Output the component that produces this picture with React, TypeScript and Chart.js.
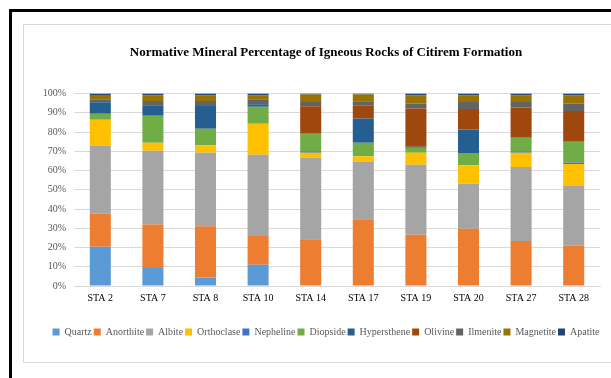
import React, { useEffect, useRef } from "react";
import { Chart, registerables } from "chart.js";

Chart.register(...registerables);

const stations = ["STA 2", "STA 7", "STA 8", "STA 10", "STA 14", "STA 17", "STA 19", "STA 20", "STA 27", "STA 28"];

// normative mineral percentages per station
const quartz = [20.4, 9.4, 4.4, 11.0, 0, 0, 0, 0, 0, 0];
const anorthite = [17.3, 22.5, 26.7, 15.0, 24.3, 34.7, 26.7, 29.8, 23.4, 21.1];
const albite = [35.3, 38.4, 38.2, 42.2, 42.4, 30.0, 36.3, 23.3, 38.4, 30.9];
const orthoclase = [13.4, 4.2, 3.8, 16.1, 2.6, 2.7, 6.3, 9.7, 7.5, 11.4];
const nepheline = [0, 0, 0, 0, 0.7, 0, 0, 0, 0.7, 0.8];
const diopside = [3.1, 14.0, 8.6, 8.9, 9.1, 7.1, 2.5, 6.3, 7.0, 10.8];
const hypersthene = [6.0, 5.4, 11.8, 1.2, 0, 12.6, 0.6, 12.2, 0, 0];
const olivine = [0, 0, 0, 0, 14.3, 6.6, 19.9, 10.7, 15.8, 15.9];
const ilmenite = [1.5, 2.3, 2.7, 2.6, 2.2, 2.3, 2.6, 3.6, 2.8, 3.9];
const magnetite = [2.3, 2.8, 2.8, 2.0, 3.9, 3.5, 4.1, 3.4, 3.4, 4.2];
const apatite = [0.7, 1.0, 1.0, 1.0, 0.5, 0.5, 1.0, 1.0, 1.0, 1.0];

const yTicks = [0, 10, 20, 30, 40, 50, 60, 70, 80, 90, 100];

const FONT = "'Liberation Serif', 'Times New Roman', serif";
const TEXT = "#595959";

export default function App() {
  const canvasRef = useRef<HTMLCanvasElement | null>(null);

  useEffect(() => {
    if (!canvasRef.current) return;
    const series: [string, number[], string][] = [
      ["Quartz", quartz, "#5B9BD5"],
      ["Anorthite", anorthite, "#ED7D31"],
      ["Albite", albite, "#A5A5A5"],
      ["Orthoclase", orthoclase, "#FFC000"],
      ["Nepheline", nepheline, "#4472C4"],
      ["Diopside", diopside, "#70AD47"],
      ["Hypersthene", hypersthene, "#255E91"],
      ["Olivine", olivine, "#9E480E"],
      ["Ilmenite", ilmenite, "#636363"],
      ["Magnetite", magnetite, "#997300"],
      ["Apatite", apatite, "#264478"],
    ];
    const chart = new Chart(canvasRef.current, {
      type: "bar",
      data: {
        labels: stations,
        datasets: series.map(([label, data, color]) => ({
          label,
          data,
          backgroundColor: color,
          borderWidth: 0,
          barPercentage: 0.4,
          categoryPercentage: 1,
        })),
      },
      options: {
        animation: false,
        responsive: false,
        layout: { padding: { left: 0, right: 0, top: 0, bottom: 15 } },
        plugins: {
          title: {
            display: true,
            text: "Normative Mineral Percentage of Igneous Rocks of Citirem Formation",
            color: "#000",
            font: { family: FONT, size: 13, weight: "bold" },
            padding: { top: 20, bottom: 33 },
          },
          legend: {
            position: "bottom",
            labels: {
              color: TEXT,
              font: { family: FONT, size: 10 },
              boxWidth: 7,
              boxHeight: 7,
              padding: 2,
            },
          },
          tooltip: { enabled: false },
        },
        scales: {
          x: {
            stacked: true,
            grid: { display: false, drawTicks: false },
            border: { display: true, color: "#D9D9D9", width: 1 },
            ticks: { color: "#000", font: { family: FONT, size: 10 }, padding: 6 },
            afterFit: (s: any) => {
              s.height = 39;
            },
          },
          y: {
            stacked: true,
            min: 0,
            max: 100,
            afterBuildTicks: (s: any) => {
              s.ticks = yTicks.map((v) => ({ value: v }));
            },
            grid: { color: "#D9D9D9", drawTicks: false },
            border: { display: false },
            ticks: {
              color: TEXT,
              font: { family: FONT, size: 10 },
              padding: 8,
              callback: (v: any) => v + "%",
            },
            afterFit: (s: any) => {
              s.width = 50;
            },
          },
          yRight: {
            position: "right",
            display: true,
            grid: { display: false },
            border: { display: false },
            ticks: { display: false },
            afterFit: (s: any) => {
              s.width = 28;
            },
          },
        },
      } as any,
    });
    return () => chart.destroy();
  }, []);

  return (
    <div
      style={{
        position: "fixed",
        left: 9,
        top: 9,
        width: 602,
        height: 369,
        overflow: "hidden",
        borderLeft: "3px solid #000",
        borderTop: "3px solid #000",
        background: "#fff",
      }}
    >
      <div
        style={{
          position: "absolute",
          left: 11,
          top: 12,
          width: 606,
          height: 337,
          border: "1px solid #D9D9D9",
          background: "#fff",
        }}
      >
        <canvas ref={canvasRef} width={604} height={337} style={{ display: "block" }} />
      </div>
    </div>
  );
}
